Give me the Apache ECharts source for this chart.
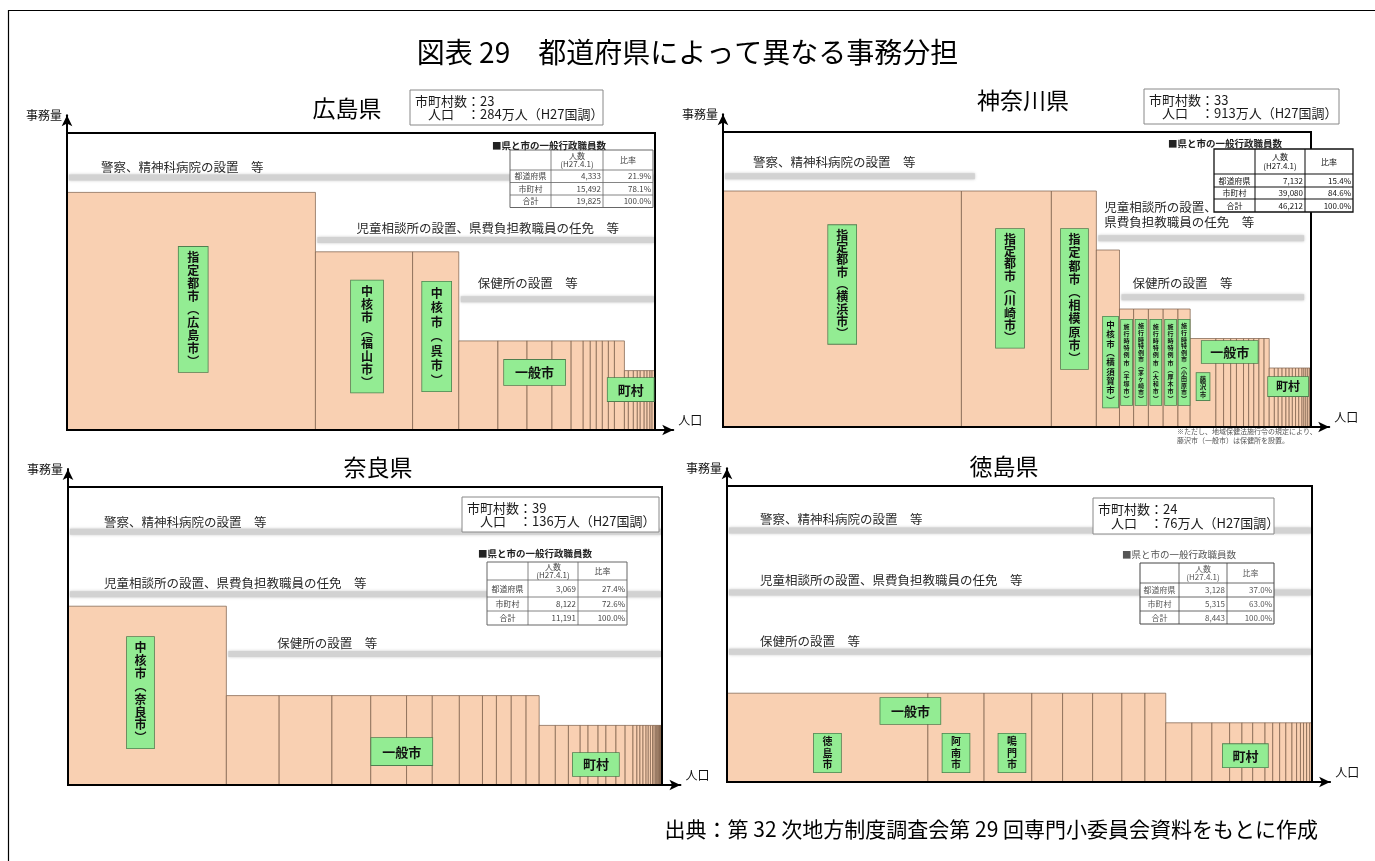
<!DOCTYPE html>
<html>
<head>
<meta charset="utf-8">
<title>図表29 都道府県によって異なる事務分担</title>
<script src="https://cdn.jsdelivr.net/npm/echarts@6/dist/echarts.min.js"></script>
<style>
html, body { margin: 0; padding: 0; background: #fff; }
#chart { width: 1375px; height: 861px; }
</style>
</head>
<body>
<div id="chart"></div>
<script>
const FONT = '"Noto Sans CJK JP", "Noto Sans", sans-serif';

// 市町村ごとの人口幅（万人、図から読み取り）と事務量レベル（左から順）
const hiroshimaPop = [119.4, 46.7, 22.2, 18.8, 14.0, 12.0, 9.2, 5.8, 3.4, 2.9, 2.9, 2.9, 2.9, 4.8, 1.9, 2.4, 1.9, 1.4, 1.9, 1.4, 1.4, 1.0, 1.4];
const hiroshimaWork = [80, 60, 60, 30, 30, 30, 30, 30, 30, 30, 30, 30, 30, 30, 20, 20, 20, 20, 20, 20, 20, 20, 20];

const kanagawaPop = [371, 140, 70, 36, 22, 23, 23, 23, 19, 40, 12, 11, 9, 11, 8, 8, 8, 8, 8, 8, 6, 6, 6, 5, 5, 5, 5, 5, 3, 3, 3, 3, 2];
const kanagawaWork = [80, 80, 80, 60, 40, 40, 40, 40, 40, 30, 30, 30, 30, 30, 30, 30, 30, 30, 30, 20, 20, 20, 20, 20, 20, 20, 20, 20, 20, 20, 20, 20, 20];

const naraPop = [36.3, 12.1, 12.1, 8.9, 8.2, 5.9, 6.2, 5.3, 3.2, 3.4, 3.4, 3.0, 3.7, 3.0, 2.7, 1.8, 2.3, 1.8, 2.3, 2.1, 1.8, 0.9, 0.7, 0.7, 0.7, 0.5, 0.5, 0.5, 0.35, 0.35, 0.25, 0.25, 0.2, 0.2, 0.15, 0.12, 0.1, 0.1, 0.08];
const naraWork = [60, 30, 30, 30, 30, 30, 30, 30, 30, 30, 30, 30, 20, 20, 20, 20, 20, 20, 20, 20, 20, 20, 20, 20, 20, 20, 20, 20, 20, 20, 20, 20, 20, 20, 20, 20, 20, 20, 20];

const tokushimaPop = [26.1, 7.3, 6.2, 4.0, 3.9, 3.8, 3.0, 2.7, 3.4, 2.6, 2.3, 1.6, 1.4, 1.6, 1.0, 0.9, 0.8, 0.8, 0.6, 0.5, 0.4, 0.4, 0.4, 0.3];
const tokushimaWork = [30, 30, 30, 30, 30, 30, 30, 30, 20, 20, 20, 20, 20, 20, 20, 20, 20, 20, 20, 20, 20, 20, 20, 20];

// 事務の区分（灰色の帯）
const bandLevels = [85, 64, 44];
const bandTexts = ['警察、精神科病院の設置　等', '児童相談所の設置、県費負担教職員の任免　等', '保健所の設置　等'];

// 各県の概要と一般行政職員数
const prefNames = ['広島県', '神奈川県', '奈良県', '徳島県'];
const muniCounts = [23, 33, 39, 24];
const popTotals = [284, 913, 136, 76];
const staffPref = [4333, 7132, 3069, 3128];
const staffMuni = [15492, 39080, 8122, 5315];
const staffTotal = [19825, 46212, 11191, 8443];
const ratioPref = [21.9, 15.4, 27.4, 37.0];
const ratioMuni = [78.1, 84.6, 72.6, 63.0];
const ratioTotal = [100.0, 100.0, 100.0, 100.0];

const panels = [
  {
    pop: hiroshimaPop, work: hiroshimaWork, ox: 67, oy: 430, w: 588, h: 297,
    title: { x: 347, y: 108 },
    info: { x: 410, y: 90, w: 193, h: 35 },
    table: { x: 510, y: 150, cols: [41, 52, 50], rows: [20, 12.5, 12.5, 12.5], tx: 492, ty: 145, stroke: '#666', lw: 1, color: '#444' },
    bands: [
      { k: 0, from: 0, dx: 34, ty: 88.6 },
      { k: 1, from: 1, dx: 41, ty: 68 },
      { k: 2, from: 3, dx: 19, ty: 49.5 }
    ],
    labels: [
      { t: '指定都市︵広島市︶', i: [0, 1], y: 40.6, dx: 2, v: true, fs: 12, lh: 13, pad: [4, 8.5] },
      { t: '中核市︵福山市︶', i: [1, 2], y: 31.5, dx: 3, v: true, fs: 12, lh: 13, pad: [4, 10] },
      { t: '中核市︵呉市︶', i: [2, 3], y: 31.5, dx: 1, v: true, fs: 12, lh: 14.5, pad: [4, 8.5] },
      { t: '一般市', i: [3, 14], y: 19.4, dx: -7, fs: 13, pad: [5, 11] },
      { t: '町村', i: [14, 23], y: 13.6, dx: -9, fs: 13, pad: [4, 10] }
    ]
  },
  {
    pop: kanagawaPop, work: kanagawaWork, ox: 723, oy: 427, w: 588, h: 295,
    title: { x: 1023, y: 100 },
    info: { x: 1144, y: 89, w: 195, h: 35 },
    table: { x: 1214, y: 149, cols: [41, 50, 48], rows: [25, 13, 12, 13], tx: 1168, ty: 143, stroke: '#111', lw: 1.3, color: '#111' },
    bands: [
      { k: 0, from: 0, end: 0.43, dx: 30, ty: 89.8 },
      { k: 1, from: 3, end: 0.99, dx: 8, ty: 72, text: '児童相談所の設置、\n県費負担教職員の任免　等' },
      { k: 2, from: 4, end: 0.99, dx: 13, ty: 48.8 }
    ],
    labels: [
      { t: '指定都市︵横浜市︶', i: [0, 1], y: 48.3, dx: 0, v: true, fs: 12, lh: 12.3, pad: [4, 8] },
      { t: '指定都市︵川崎市︶', i: [1, 2], y: 47, dx: 3.6, v: true, fs: 12, lh: 12.3, pad: [4, 8] },
      { t: '指定都市︵相模原市︶', i: [2, 3], y: 43.4, dx: 0.6, v: true, fs: 12, lh: 13.2, pad: [4, 7.5] },
      { t: '中核市︵横須賀市︶', i: [3, 4], y: 22, dx: 2.6, v: true, fs: 8.5, lh: 9.3, pad: [3.5, 3.25] },
      { t: '施行時特例市︵平塚市︶', i: [4, 5], y: 21.9, dx: 0, v: true, fs: 6, lh: 7.2, pad: [3, 2.5] },
      { t: '施行時特例市︵茅ヶ崎市︶', i: [5, 6], y: 21.9, dx: 0, v: true, fs: 6, lh: 6.6, pad: [3, 2.5] },
      { t: '施行時特例市︵大和市︶', i: [6, 7], y: 21.9, dx: 0, v: true, fs: 6, lh: 7.2, pad: [3, 2.5] },
      { t: '施行時特例市︵厚木市︶', i: [7, 8], y: 21.9, dx: 0, v: true, fs: 6, lh: 7.2, pad: [3, 2.5] },
      { t: '施行時特例市︵小田原市︶', i: [8, 9], y: 21.9, dx: 0, v: true, fs: 6, lh: 6.6, pad: [3, 2.5] },
      { t: '藤沢市', i: [9, 10], y: 13.7, dx: 0, v: true, fs: 6.5, lh: 7.5, pad: [2.25, 3.25] },
      { t: '一般市', i: [9, 19], y: 25.4, dx: 0, fs: 13, pad: [3.5, 8.5] },
      { t: '町村', i: [19, 33], y: 13.7, dx: -2, fs: 12, pad: [2.5, 8] }
    ],
    note: { x: 1177, y: 436 }
  },
  {
    pop: naraPop, work: naraWork, ox: 68, oy: 785, w: 594, h: 298,
    title: { x: 378, y: 467 },
    info: { x: 462, y: 497, w: 197, h: 35 },
    table: { x: 487, y: 562, cols: [41, 50, 49], rows: [18, 17, 14, 14], tx: 478, ty: 553, stroke: '#666', lw: 1, color: '#444' },
    bands: [
      { k: 0, from: 0, dx: 36, ty: 88.3 },
      { k: 1, from: 0, dx: 36, ty: 67.8 },
      { k: 2, from: 1, dx: 51, ty: 47.7 }
    ],
    labels: [
      { t: '中核市︵奈良市︶', i: [0, 1], y: 31, dx: -6.7, v: true, fs: 12, lh: 12.9, pad: [4, 7.5] },
      { t: '一般市', i: [1, 12], y: 11.2, dx: 19, fs: 13, pad: [6, 11] },
      { t: '町村', i: [12, 39], y: 6.9, dx: -4.7, fs: 13, pad: [4, 10] }
    ]
  },
  {
    pop: tokushimaPop, work: tokushimaWork, ox: 727, oy: 782, w: 585, h: 296,
    title: { x: 1004, y: 466 },
    info: { x: 1093, y: 498, w: 181, h: 36 },
    table: { x: 1140, y: 563, cols: [39, 48, 47], rows: [20, 14, 14, 13], tx: 1122, ty: 554, stroke: '#444', lw: 1, color: '#555', light: true },
    bands: [
      { k: 0, from: 0, dx: 33, ty: 88.9 },
      { k: 1, from: 0, dx: 33, ty: 68.2 },
      { k: 2, from: 0, dx: 33, ty: 47.6 }
    ],
    labels: [
      { t: '一般市', i: [0, 8], y: 24, dx: -36, fs: 13, pad: [5.5, 10.5] },
      { t: '徳島市', i: [0, 1], y: 9.8, dx: 0, v: true, fs: 10, lh: 11.5, pad: [2, 8.5] },
      { t: '阿南市', i: [1, 2], y: 9.8, dx: 0, v: true, fs: 10, lh: 11.5, pad: [2, 8.5] },
      { t: '鳴門市', i: [2, 3], y: 9.8, dx: 4, v: true, fs: 10, lh: 11.5, pad: [2, 8.5] },
      { t: '町村', i: [8, 24], y: 8.9, dx: 6.5, fs: 13, pad: [4, 9.5] }
    ]
  }
];

panels.forEach(P => {
  P.cum = [0];
  P.pop.forEach(v => P.cum.push(P.cum[P.cum.length - 1] + v));
  P.total = P.cum[P.cum.length - 1];
});

const grids = [], xAxes = [], yAxes = [], series = [], graphics = [];

panels.forEach((P, pi) => {
  grids.push({ left: P.ox, top: P.oy - P.h * 1.06, width: P.w * 1.031, height: P.h * 1.06 });
  xAxes.push({
    gridIndex: pi, type: 'value', min: 0, max: P.total * 1.031,
    axisLine: { show: true, symbol: ['none', 'arrow'], symbolSize: [8, 11], lineStyle: { color: '#000', width: 2 } },
    axisTick: { show: false }, axisLabel: { show: false }, splitLine: { show: false },
    name: '人口', nameLocation: 'end', nameGap: 5,
    nameTextStyle: { color: '#111', fontSize: 12, fontFamily: FONT, verticalAlign: 'bottom', padding: [0, 0, 4, 0] }
  });
  yAxes.push({
    gridIndex: pi, type: 'value', min: 0, max: 106,
    axisLine: { show: true, symbol: ['none', 'arrow'], symbolSize: [8, 11], lineStyle: { color: '#000', width: 2 } },
    axisTick: { show: false }, axisLabel: { show: false }, splitLine: { show: false },
    name: '事務量', nameLocation: 'end', nameGap: 0,
    nameTextStyle: { color: '#111', fontSize: 12, fontFamily: FONT, align: 'right', verticalAlign: 'middle', padding: [0, 5, 0, 0] }
  });

  // 市町村の棚（幅＝人口、高さ＝事務量）
  series.push({
    type: 'custom', xAxisIndex: pi, yAxisIndex: pi, z: 2, silent: true,
    data: P.pop.map((v, i) => [P.cum[i], P.cum[i + 1], P.work[i]]),
    encode: { x: [0, 1], y: 2 },
    renderItem(params, api) {
      const a = api.coord([api.value(0), api.value(2)]);
      const b = api.coord([api.value(1), 0]);
      return {
        type: 'rect',
        shape: { x: a[0], y: a[1], width: b[0] - a[0], height: b[1] - a[1] },
        style: { fill: '#F9D0B2', stroke: '#7a5c48', lineWidth: 0.7 }
      };
    }
  });

  // 灰色の帯と事務の説明
  series.push({
    type: 'custom', xAxisIndex: pi, yAxisIndex: pi, z: 3, silent: true,
    data: P.bands.map(b => [P.cum[b.from], P.total * (b.end || 1), bandLevels[b.k], b.ty]),
    encode: { x: [0, 1], y: 2 },
    renderItem(params, api) {
      const b = P.bands[params.dataIndex];
      const a = api.coord([api.value(0), api.value(2)]);
      const c = api.coord([api.value(1), api.value(2)]);
      const t = api.coord([api.value(0), api.value(3)]);
      return {
        type: 'group',
        children: [
          { type: 'rect', shape: { x: a[0] + 2, y: a[1] - 3, width: c[0] - a[0] - 3, height: 6 },
            style: { fill: '#d2d2d2', shadowBlur: 3, shadowColor: 'rgba(185,185,185,0.8)' } },
          { type: 'text', style: { text: b.text || bandTexts[b.k], x: t[0] + b.dx, y: t[1], fill: '#2a2a2a',
            fontSize: 12.5, fontFamily: FONT, verticalAlign: 'middle', lineHeight: 15 } }
        ]
      };
    }
  });

  // 枠
  series.push({
    type: 'custom', xAxisIndex: pi, yAxisIndex: pi, z: 4, silent: true,
    data: [[0, P.total, 100]],
    encode: { x: [0, 1], y: 2 },
    renderItem(params, api) {
      const a = api.coord([api.value(0), api.value(2)]);
      const b = api.coord([api.value(1), 0]);
      return {
        type: 'rect',
        shape: { x: a[0], y: a[1], width: b[0] - a[0], height: b[1] - a[1] },
        style: { fill: 'none', stroke: '#000', lineWidth: 2 }
      };
    }
  });

  // 緑のラベル
  series.push({
    type: 'custom', xAxisIndex: pi, yAxisIndex: pi, z: 5, silent: true,
    data: P.labels.map(L => [(P.cum[L.i[0]] + P.cum[L.i[1]]) / 2, L.y]),
    encode: { x: 0, y: 1 },
    renderItem(params, api) {
      const L = P.labels[params.dataIndex];
      const p = api.coord([api.value(0), api.value(1)]);
      return {
        type: 'text',
        style: {
          text: L.v ? L.t.split('').join('\n') : L.t,
          x: p[0] + (L.dx || 0), y: p[1], align: 'center', verticalAlign: 'middle',
          fontSize: L.fs, fontWeight: 'bold', fontFamily: FONT, lineHeight: L.lh || L.fs + 2,
          fill: '#111', backgroundColor: '#93EC93', borderColor: '#4f7f4f', borderWidth: 0.8,
          padding: L.pad
        }
      };
    }
  });

  // 県名
  graphics.push({
    type: 'text', z: 100,
    style: { text: prefNames[pi], x: P.title.x, y: P.title.y, align: 'center', verticalAlign: 'middle',
      fontSize: 23, fontFamily: FONT, fill: '#000' }
  });

  // 市町村数・人口の枠
  const I = P.info;
  graphics.push({
    type: 'rect', z: 100,
    shape: { x: I.x, y: I.y, width: I.w, height: I.h },
    style: { fill: '#fff', stroke: '#888', lineWidth: 1 }
  });
  graphics.push({
    type: 'text', z: 101,
    style: { text: '市町村数：' + muniCounts[pi] + '\n　人口　：' + popTotals[pi] + '万人（H27国調）',
      x: I.x + 5, y: I.y + I.h / 2, verticalAlign: 'middle', fontSize: 13, lineHeight: 13.5,
      fontFamily: FONT, fill: '#1a1a1a' }
  });

  // 一般行政職員数の表
  const T = P.table;
  const W = T.cols.reduce((a, b) => a + b, 0);
  const H = T.rows.reduce((a, b) => a + b, 0);
  graphics.push({
    type: 'text', z: 101,
    style: { text: '■県と市の一般行政職員数', x: T.tx, y: T.ty, verticalAlign: 'middle',
      fontSize: 9.5, fontWeight: T.light ? 'normal' : 'bold', fontFamily: FONT, fill: T.light ? '#555' : '#222' }
  });
  graphics.push({
    type: 'rect', z: 100,
    shape: { x: T.x, y: T.y, width: W, height: H },
    style: { fill: '#fff', stroke: T.stroke, lineWidth: T.lw }
  });
  let yy = T.y;
  for (let r = 0; r < T.rows.length - 1; r++) {
    yy += T.rows[r];
    graphics.push({ type: 'line', z: 101, shape: { x1: T.x, y1: yy, x2: T.x + W, y2: yy },
      style: { stroke: T.stroke, lineWidth: T.lw * 0.8 } });
  }
  let xx = T.x;
  for (let c = 0; c < T.cols.length - 1; c++) {
    xx += T.cols[c];
    graphics.push({ type: 'line', z: 101, shape: { x1: xx, y1: T.y, x2: xx, y2: T.y + H },
      style: { stroke: T.stroke, lineWidth: T.lw * 0.8 } });
  }
  const fmt = n => n.toLocaleString('en-US');
  const cells = [
    ['', '人数\n(H27.4.1)', '比率'],
    ['都道府県', fmt(staffPref[pi]), ratioPref[pi].toFixed(1) + '%'],
    ['市町村', fmt(staffMuni[pi]), ratioMuni[pi].toFixed(1) + '%'],
    ['合計', fmt(staffTotal[pi]), ratioTotal[pi].toFixed(1) + '%']
  ];
  let cy = T.y;
  cells.forEach((row, r) => {
    let cx = T.x;
    row.forEach((txt, c) => {
      const right = r > 0 && c > 0;
      graphics.push({
        type: 'text', z: 102,
        style: {
          text: txt, x: right ? cx + T.cols[c] - 2 : cx + T.cols[c] / 2, y: cy + T.rows[r] / 2,
          align: right ? 'right' : 'center', verticalAlign: 'middle',
          fontSize: 8, lineHeight: 8.5, fontFamily: FONT, fill: T.color
        }
      });
      cx += T.cols[c];
    });
    cy += T.rows[r];
  });

  if (P.note) {
    graphics.push({
      type: 'text', z: 101,
      style: { text: '※ただし、地域保健法施行令の規定により、\n藤沢市（一般市）は保健所を設置。',
        x: P.note.x, y: P.note.y, verticalAlign: 'middle', fontSize: 7, lineHeight: 9,
        fontFamily: FONT, fill: '#555' }
    });
  }
});

// 全体の枠線と出典
graphics.push({
  type: 'polyline', z: 100,
  shape: { points: [[8.5, 861], [8.5, 10.5], [1375, 10.5]] },
  style: { stroke: '#000', lineWidth: 1.2, fill: 'none' }
});
graphics.push({
  type: 'text', z: 100,
  style: { text: '出典：第 32 次地方制度調査会第 29 回専門小委員会資料をもとに作成',
    x: 1318, y: 829, align: 'right', verticalAlign: 'middle', fontSize: 21, fontFamily: FONT, fill: '#000' }
});

const chart = echarts.init(document.getElementById('chart'));
chart.setOption({
  animation: false,
  backgroundColor: '#fff',
  title: {
    text: '図表 29　都道府県によって異なる事務分担',
    left: 'center', top: 33,
    textStyle: { fontSize: 28, fontWeight: 'normal', fontFamily: FONT, color: '#000' }
  },
  grid: grids,
  xAxis: xAxes,
  yAxis: yAxes,
  series: series,
  graphic: { elements: graphics }
});
</script>
</body>
</html>
